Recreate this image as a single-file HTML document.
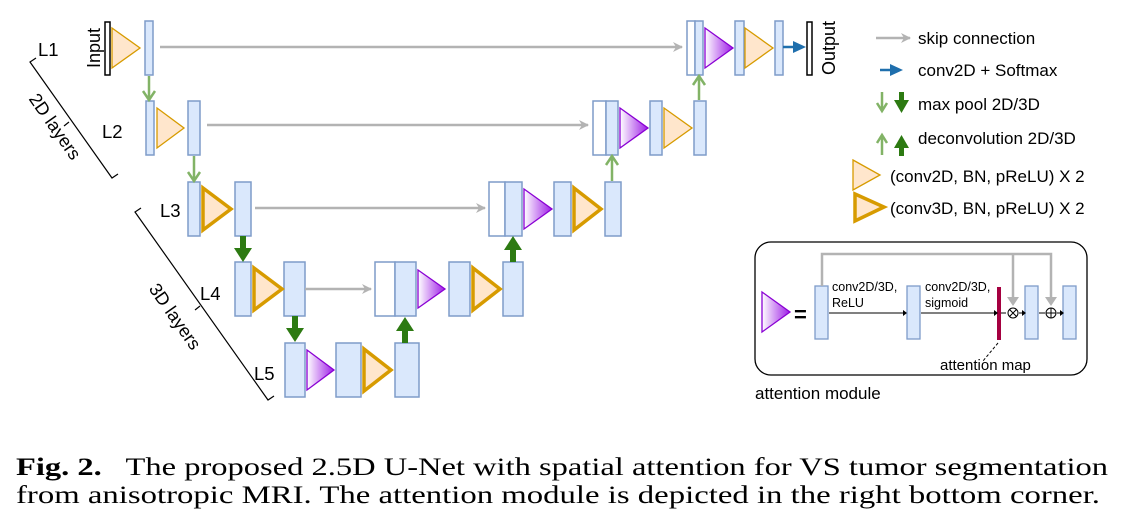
<!DOCTYPE html>
<html><head><meta charset="utf-8"><style>
html,body{margin:0;padding:0;background:#fff;width:1138px;height:522px;overflow:hidden}
svg{display:block}
text{font-family:"Liberation Sans",sans-serif;fill:#000}
</style></head><body>
<svg width="1138" height="522" viewBox="0 0 1138 522" xmlns="http://www.w3.org/2000/svg">
<defs>
<linearGradient id="pg" x1="0" x2="1" y1="0" y2="0"><stop offset="0" stop-color="#fff"/><stop offset="1" stop-color="#9d1de6"/></linearGradient>
<marker id="ag" markerWidth="10" markerHeight="10" refX="9" refY="5" orient="auto" markerUnits="userSpaceOnUse"><path d="M0,0 L10,5 L0,10 L3,5z" fill="#b3b3b3"/></marker>
</defs>
<g fill="#dae8fc" stroke="#7e9cc9" stroke-width="1.5">
<rect x="145" y="21" width="8" height="54"/>
<rect x="687" y="21" width="8" height="54" fill="#fff"/><rect x="695" y="21" width="8" height="54"/>
<rect x="735" y="21" width="9" height="54"/><rect x="775" y="21" width="8" height="54"/>
<rect x="146" y="101" width="8" height="54"/><rect x="188" y="101" width="12" height="54"/>
<rect x="593" y="101" width="13" height="54" fill="#fff"/><rect x="606" y="101" width="12" height="54"/>
<rect x="650" y="101" width="12" height="54"/><rect x="694" y="101" width="12" height="54"/>
<rect x="188" y="182" width="12" height="54"/><rect x="235" y="182" width="16" height="54"/>
<rect x="489" y="182" width="16" height="54" fill="#fff"/><rect x="505" y="182" width="17" height="54"/>
<rect x="554" y="182" width="17" height="54"/><rect x="605" y="182" width="16" height="54"/>
<rect x="235" y="262" width="16" height="54"/><rect x="284" y="262" width="21" height="54"/>
<rect x="375" y="262" width="20" height="54" fill="#fff"/><rect x="395" y="262" width="21" height="54"/>
<rect x="449" y="262" width="21" height="54"/><rect x="503" y="262" width="20" height="54"/>
<rect x="285" y="343" width="20" height="54"/><rect x="336" y="343" width="25" height="54"/><rect x="395" y="343" width="24" height="54"/>
</g>
<rect x="105" y="22" width="5" height="53" fill="#fff" stroke="#000" stroke-width="1.5"/>
<rect x="807" y="22" width="5" height="53" fill="#fff" stroke="#000" stroke-width="1.5"/>
<text transform="translate(95,48) rotate(-90)" font-size="18" text-anchor="middle" dominant-baseline="middle">Input</text>
<text transform="translate(830,48) rotate(-90)" font-size="18" text-anchor="middle" dominant-baseline="middle">Output</text>
<g fill="#ffe6cc" stroke="#d79b00" stroke-width="1.3">
<path d="M112,28 L140,48 L112,68z"/><path d="M157,108 L184,128 L157,148z"/>
<path d="M664,108 L692,128 L664,148z"/><path d="M745,28 L773,48 L745,68z"/>
<path d="M853,160 L880,175 L853,190z"/>
</g>
<g fill="#ffe6cc" stroke="#d79b00" stroke-width="3.5">
<path d="M203,188 L231,209 L203,230z"/><path d="M574,188 L601,209 L574,230z"/>
<path d="M254,268 L282,289 L254,310z"/><path d="M473,268 L500,289 L473,310z"/>
<path d="M364,349 L391,370 L364,391z"/>
<path d="M855,194 L884,207 L855,221z"/>
</g>
<g fill="url(#pg)" stroke="#8a00d4" stroke-width="1.3">
<path d="M705,28 L733,48 L705,68z"/><path d="M620,108 L648,128 L620,148z"/>
<path d="M524,189 L552,209 L524,229z"/><path d="M418,270 L445,289 L418,308z"/>
<path d="M307,350 L334,370 L307,390z"/><path d="M762,292 L790,312 L762,332z"/>
</g>
<g stroke="#b3b3b3" stroke-width="2.5" fill="none" marker-end="url(#ag)">
<line x1="160" y1="47" x2="682" y2="47"/><line x1="207" y1="125" x2="588" y2="125"/>
<line x1="255" y1="208" x2="485" y2="208"/><line x1="305" y1="289" x2="371" y2="289"/>
<line x1="876" y1="38" x2="910" y2="38"/>
</g>
<g stroke="#1f6fad" stroke-width="2.5"><line x1="783" y1="47" x2="796" y2="47"/><line x1="880" y1="70" x2="893" y2="70"/></g>
<path d="M793,41 L806,47 L793,53z M890,64 L903,70 L890,76z" fill="#1f6fad"/>
<g stroke="#82b366" stroke-width="2.5" fill="none">
<path d="M149,76 V99 M143,91 L149,100 L155,91"/>
<path d="M194,156 V180 M188,172 L194,181 L200,172"/>
<path d="M612,181 V157 M606,165 L612,156 L618,165"/>
<path d="M699,100 V77 M693,85 L699,76 L705,85"/>
<path d="M882,92 V110 M877,103 L882,111 L887,103"/>
<path d="M882,155 V137 M877,143 L882,135 L887,143"/>
</g>
<g fill="#2d7a12">
<path d="M240,236 h6 v12 h6 l-9,14 l-9,-14 h6z"/>
<path d="M292,316 h6 v12 h6 l-9,14 l-9,-14 h6z"/>
<path d="M402,343 h6 v-12 h6 l-9,-14 l-9,14 h6z"/>
<path d="M510,262 h6 v-12 h6 l-9,-14 l-9,14 h6z"/>
<path d="M899,92 h5 v8 h5 l-7.5,13 l-7.5,-13 h5z"/>
<path d="M899,156 h5 v-8 h5 l-7.5,-13 l-7.5,13 h5z"/>
</g>
<g font-size="17">
<text x="918" y="44">skip connection</text>
<text x="918" y="76">conv2D + Softmax</text>
<text x="918" y="110">max pool 2D/3D</text>
<text x="918" y="144">deconvolution 2D/3D</text>
<text x="890" y="182">(conv2D, BN, pReLU) X 2</text>
<text x="890" y="214">(conv3D, BN, pReLU) X 2</text>
</g>
<g font-size="18.5">
<text x="38" y="56">L1</text><text x="102" y="138">L2</text><text x="160" y="217">L3</text>
<text x="200" y="300">L4</text><text x="254" y="380">L5</text>
</g>
<g stroke="#000" stroke-width="1.2" fill="none">
<path d="M36,58 L30,62 L112,178 L118,174 M69,122 L64,126"/>
<path d="M141,208 L135,212 L268,400 L274,396 M200,306 L195,310"/>
</g>
<text transform="translate(50,130) rotate(55)" font-size="18" text-anchor="middle">2D layers</text>
<text transform="translate(170,320) rotate(55)" font-size="18" text-anchor="middle">3D layers</text>
<rect x="755" y="242" width="332" height="133" rx="16" fill="none" stroke="#000" stroke-width="1.3"/>
<text x="794" y="322" font-size="22" font-weight="bold">=</text>
<g fill="#dae8fc" stroke="#7e9cc9" stroke-width="1.3">
<rect x="815" y="286" width="13" height="53"/><rect x="907" y="286" width="13" height="53"/>
<rect x="1025" y="286" width="13" height="53"/><rect x="1063" y="286" width="13" height="53"/>
</g>
<rect x="997" y="287" width="4" height="53" fill="#a50040"/>
<g stroke="#b3b3b3" stroke-width="2.5" fill="none">
<path d="M822,286 V254 H1051 V300"/><path d="M1013,254 V300"/>
</g>
<path d="M1007,297 L1013,306 L1019,297z M1045,297 L1051,306 L1057,297z" fill="#b3b3b3"/>
<g stroke="#000" stroke-width="1" fill="none">
<line x1="829" y1="313" x2="903" y2="313"/><line x1="921" y1="313" x2="994" y2="313"/>
<line x1="1001" y1="313" x2="1006" y2="313"/><line x1="1019" y1="313" x2="1023" y2="313"/>
<line x1="1039" y1="313" x2="1045" y2="313"/><line x1="1057" y1="313" x2="1061" y2="313"/>
<circle cx="1013" cy="313" r="5"/><path d="M1009.5,309.5 L1016.5,316.5 M1016.5,309.5 L1009.5,316.5"/>
<circle cx="1051" cy="313" r="5"/><path d="M1046,313 H1056 M1051,308 V318"/>
<path d="M998,343 L983,361" stroke-dasharray="3,2"/>
</g>
<path d="M903,310 L907,313 L903,316z M994,310 L998,313 L994,316z M1022,310 L1026,313 L1022,316z M1060,310 L1064,313 L1060,316z" fill="#000"/>
<g font-size="12.5">
<text x="832" y="291">conv2D/3D,</text><text x="832" y="307">ReLU</text>
<text x="925" y="291">conv2D/3D,</text><text x="925" y="307">sigmoid</text>
</g>
<text x="940" y="370" font-size="15">attention map</text>
<text x="755" y="399" font-size="17">attention module</text>
<text x="16" y="475" font-size="25" textLength="1092" lengthAdjust="spacingAndGlyphs" xml:space="preserve" style="font-family:'Liberation Serif',serif"><tspan font-weight="bold">Fig. 2.</tspan>   The proposed 2.5D U-Net with spatial attention for VS tumor segmentation</text>
<text x="16" y="503" font-size="25" textLength="1084" lengthAdjust="spacingAndGlyphs" style="font-family:'Liberation Serif',serif">from anisotropic MRI. The attention module is depicted in the right bottom corner.</text>
</svg>
</body></html>
